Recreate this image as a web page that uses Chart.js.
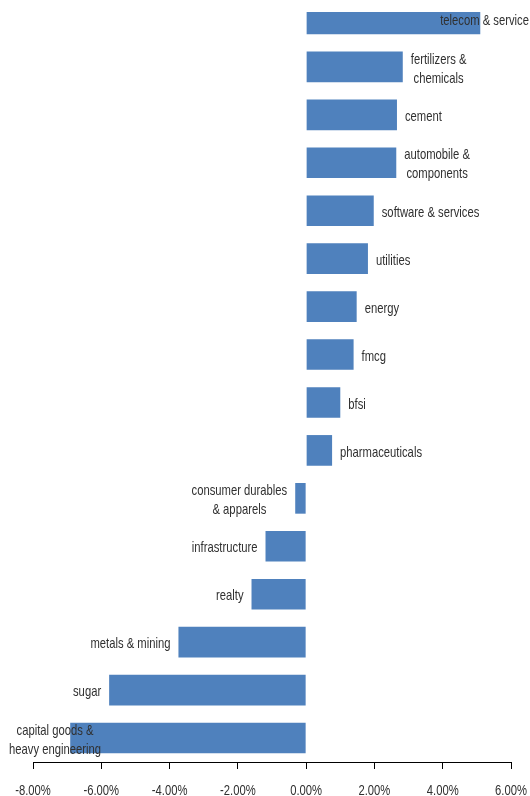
<!DOCTYPE html>
<html>
<head>
<meta charset="utf-8">
<script src="https://cdn.jsdelivr.net/npm/chart.js@4.4.1/dist/chart.umd.min.js"></script>
<style>
  html, body { margin: 0; padding: 0; background: #fff; }
  #wrap { position: relative; width: 530px; height: 796px; overflow: hidden; }
  #chart { position: absolute; left: 0; top: -5px; }
</style>
</head>
<body>
<div id="wrap"><canvas id="chart" width="530" height="804"></canvas></div>
<script>
// sector returns, top to bottom
const sectors = [
    ['telecom & service'],
    ['fertilizers &', 'chemicals'],
    ['cement'],
    ['automobile &', 'components'],
    ['software & services'],
    ['utilities'],
    ['energy'],
    ['fmcg'],
    ['bfsi'],
    ['pharmaceuticals'],
    ['consumer durables', '& apparels'],
    ['infrastructure'],
    ['realty'],
    ['metals & mining'],
    ['sugar'],
    ['capital goods &', 'heavy engineering']
];
const returns = [5.10, 2.83, 2.66, 2.64, 1.98, 1.81, 1.48, 1.39, 1.00, 0.76, -0.32, -1.19, -1.60, -3.74, -5.77, -6.91];
const xTicks = [-8, -6, -4, -2, 0, 2, 4, 6];

// no narrow face installed, so squeeze Liberation Sans horizontally
const FONT = "15px 'Liberation Sans', Arial, sans-serif";
const SQUEEZE = 0.75;
const TEXT = '#303030';

function narrowText(ctx, str, cx, cy) {
    ctx.save();
    ctx.translate(cx, cy);
    ctx.scale(SQUEEZE, 1);
    ctx.fillText(str, 0, 0);
    ctx.restore();
}

// ── Labels next to each bar + axis tick labels ─────────────
const narrowLabels = {
    id: 'narrowLabels',
    afterDraw(chart) {
        const ctx = chart.ctx;
        const meta = chart.getDatasetMeta(0);
        const xs = chart.scales.x;
        const lineH = 19;
        ctx.save();
        ctx.font = FONT;
        ctx.fillStyle = TEXT;
        ctx.textBaseline = 'middle';
        ctx.textAlign = 'center';

        meta.data.forEach((bar, i) => {
            const lines = sectors[i];
            const w = Math.max(...lines.map(l => ctx.measureText(l).width)) * SQUEEZE;
            let left = returns[i] >= 0 ? bar.x + 8 : bar.x - 8 - w;
            left = Math.min(Math.max(left, 9), chart.width - 1 - w);
            const top = bar.y + 2 - (lines.length - 1) * lineH / 2;
            lines.forEach((l, k) => narrowText(ctx, l, left + w / 2, top + k * lineH));
        });

        xs.ticks.forEach(t => {
            narrowText(ctx, t.value.toFixed(2) + '%', xs.getPixelForValue(t.value), chart.chartArea.bottom + 29);
        });
        ctx.restore();
    }
};

new Chart(document.getElementById('chart'), {
    type: 'bar',
    data: {
        labels: sectors,
        datasets: [{
            data: returns,
            backgroundColor: '#4F81BD',
            borderWidth: 0,
            barPercentage: 0.64,
            categoryPercentage: 1,
            clip: { left: false, right: false, bottom: false, top: -17 }
        }]
    },
    options: {
        indexAxis: 'y',
        responsive: false,
        animation: false,
        layout: { padding: { left: 33, right: 19, top: 0, bottom: 30 } },
        plugins: { legend: { display: false }, tooltip: { enabled: false } },
        scales: {
            y: { display: false },
            x: {
                min: -8,
                max: 6,
                afterBuildTicks: s => { s.ticks = xTicks.map(v => ({ value: v })); },
                grid: { drawOnChartArea: false, drawTicks: true, tickLength: 7, color: '#000' },
                border: { display: true, color: '#000', width: 1 },
                ticks: { display: false }
            }
        }
    },
    plugins: [narrowLabels]
});
</script>
</body>
</html>
